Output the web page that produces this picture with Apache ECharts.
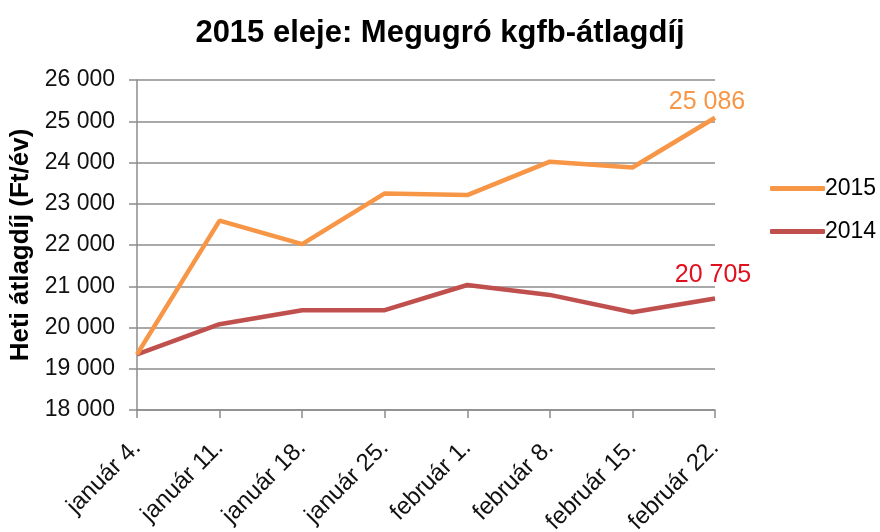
<!DOCTYPE html>
<html>
<head>
<meta charset="utf-8">
<script src="https://cdn.jsdelivr.net/npm/echarts@6/dist/echarts.min.js"></script>
<style>
  html, body { margin: 0; padding: 0; background: #fff; }
  #chart { width: 880px; height: 532px; }
</style>
</head>
<body>
<div id="chart"></div>
<script>
var chart = echarts.init(document.getElementById('chart'));

// heti dátumok
var weeks = ['január 4.', 'január 11.', 'január 18.', 'január 25.', 'február 1.', 'február 8.', 'február 15.', 'február 22.'];
// átlagdíjak (Ft/év)
var avg2015 = [19350, 22590, 22020, 23250, 23210, 24020, 23880, 25086];
var avg2014 = [19350, 20080, 20420, 20420, 21030, 20790, 20370, 20705];

var font = 'Arial, "Liberation Sans", sans-serif';

function fmt(v) {
    return String(v).replace(/\B(?=(\d{3})+(?!\d))/g, ' ');
}

// az utolsó pontra kerül a címke
function withLastLabel(arr, color, dist, dx) {
    return arr.map(function (v, i) {
        if (i !== arr.length - 1) return v;
        return {
            value: v,
            label: {
                show: true,
                position: 'top',
                distance: dist,
                offset: [dx, 0],
                color: color,
                fontSize: 25,
                fontFamily: font,
                formatter: function (p) { return fmt(p.value); }
            }
        };
    });
}

var option = {
    animation: false,
    title: {
        text: '2015 eleje: Megugró kgfb-átlagdíj',
        left: 'center',
        top: 13,
        textStyle: {
            fontFamily: font,
            fontSize: 31,
            fontWeight: 'bold',
            color: '#000'
        }
    },
    legend: {
        orient: 'vertical',
        left: 765,
        top: 172,
        itemWidth: 55,
        itemHeight: 5,
        itemGap: 20,
        icon: 'roundRect',
        textStyle: { fontFamily: font, fontSize: 23, color: '#000', padding: [0, 0, 0, -5] },
        data: ['2015', '2014']
    },
    grid: {
        left: 137,
        right: 165,
        top: 80,
        bottom: 122,
        outerBoundsMode: 'none'
    },
    xAxis: {
        type: 'category',
        data: weeks,
        boundaryGap: false,
        axisLine: { lineStyle: { color: '#8c8c8c', width: 1.5 } },
        axisTick: { show: true, length: 8, lineStyle: { color: '#8c8c8c', width: 1.5 } },
        axisLabel: {
            rotate: 45,
            fontFamily: font,
            fontSize: 24,
            color: '#111',
            margin: 34
        }
    },
    yAxis: {
        type: 'value',
        min: 18000,
        max: 26000,
        interval: 1000,
        name: 'Heti átlagdíj (Ft/év)',
        nameLocation: 'middle',
        nameGap: 84,
        nameTextStyle: { fontFamily: font, fontSize: 26, fontWeight: 'bold', color: '#000' },
        axisLine: { show: true, lineStyle: { color: '#8c8c8c', width: 1.5 } },
        axisTick: { show: true, length: 8, lineStyle: { color: '#8c8c8c', width: 1.5 } },
        splitLine: { lineStyle: { color: '#8c8c8c', width: 1.5 } },
        axisLabel: {
            fontFamily: font,
            fontSize: 23,
            color: '#111',
            margin: 22,
            formatter: function (v) { return fmt(v); }
        }
    },
    series: [
        {
            name: '2015',
            type: 'line',
            symbol: 'circle',
            symbolSize: 0.5,
            itemStyle: { color: '#F79646' },
            lineStyle: { width: 4.5, color: '#F79646' },
            data: withLastLabel(avg2015, '#F79646', 3, -8),
            z: 3
        },
        {
            name: '2014',
            type: 'line',
            symbol: 'circle',
            symbolSize: 0.5,
            itemStyle: { color: '#C0504D' },
            lineStyle: { width: 4.5, color: '#C0504D' },
            data: withLastLabel(avg2014, '#E0111E', 11, -2),
            z: 2
        }
    ]
};

chart.setOption(option);
</script>
</body>
</html>
